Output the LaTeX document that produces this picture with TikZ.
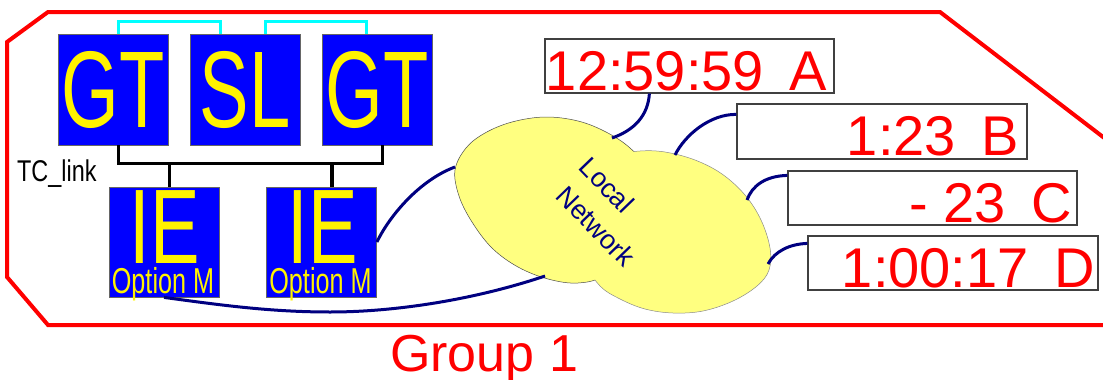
\documentclass[tikz,border=0pt]{standalone}
\usepackage{fontspec}
\setmainfont{Liberation Sans}
\usepackage{graphicx}
\definecolor{cloudyellow}{RGB}{255,255,128}
\definecolor{linknavy}{RGB}{0,0,128}
\definecolor{boxblue}{RGB}{0,0,255}
\definecolor{linkcyan}{RGB}{0,255,255}
\newcommand{\cond}[2][0.68]{\scalebox{#1}[1]{#2}}
\newcommand{\leftegg}{plot[smooth cycle, tension=0.6] coordinates {
  (455,170) (466,148) (485,133) (512,122) (545,117) (578,121) (606,132) (630,148)
  (648,170) (650,205) (635,245) (605,275) (578,283) (548,279) (518,267) (492,248)
  (472,222) (459,196)}}
\newcommand{\rightegg}{plot[smooth cycle, tension=0.6] coordinates {
  (600,170) (622,155) (640,151) (665,152) (695,160) (722,174) (745,195) (761,220)
  (770,248) (769,270) (757,286) (733,301) (703,311) (673,313) (645,309) (620,299)
  (600,286) (588,265) (585,230) (588,195)}}
\begin{document}
\begin{tikzpicture}[x=1pt,y=-1pt,
  bluebox/.style={fill=boxblue, draw=black!60, line width=0.8pt, inner sep=0pt,
    minimum width=110pt, minimum height=111pt, text=yellow,
    font=\fontsize{109}{109}\selectfont},
  ietxt/.style={text=yellow, inner sep=0pt, anchor=base, font=\fontsize{106}{106}\selectfont},
  opttxt/.style={text=yellow, inner sep=0pt, anchor=base, font=\fontsize{36}{36}\selectfont},
  timebox/.style={draw=black!75, fill=white, line width=1.2pt, inner sep=0pt,
    minimum width=289pt, minimum height=54pt},
  timetxt/.style={text=red, inner sep=0pt, anchor=base east, font=\fontsize{56}{56}\selectfont},
  navyline/.style={draw=linknavy, line width=3pt},
  cyanlink/.style={draw=linkcyan, line width=3.5pt},
  tclink/.style={draw=black, line width=3.5pt},
  cloudedge/.style={draw=black!70, line width=0.5pt},
  netlabel/.style={rotate=-46, text=linknavy, inner sep=0pt, font=\fontsize{27}{27}\selectfont},
]
\path[use as bounding box] (0,0) rectangle (1103,380);
\clip (0,0) rectangle (1103,380);

% group outline
\draw[red, line width=4pt, line join=miter] (1120,150) -- (940,12) -- (48,12) -- (7,42) -- (7,277) -- (48,325) -- (1120,325);
\node[anchor=base west, text=red, inner sep=0pt, font=\fontsize{52}{52}\selectfont] (grp) at (390,371) {Group 1};

% cloud
\fill[cloudyellow] \rightegg;
\fill[cloudyellow] \leftegg;
\begin{scope}[even odd rule]
  \clip (0,0) rectangle (1103,380) \rightegg;
  \path[cloudedge] \leftegg;
\end{scope}
\begin{scope}[even odd rule]
  \clip (0,0) rectangle (1103,380) \leftegg;
  \path[cloudedge, draw=black!45] \rightegg;
\end{scope}
\node[netlabel] (loc) at (607,185) {Local};
\node[netlabel] (net) at (596,226) {Network};

\coordinate (c1) at (455,167);
\coordinate (c2) at (545,276);
\coordinate (c3) at (612,138);
\coordinate (c4) at (675,155);
\coordinate (c5) at (747,200);
\coordinate (c6) at (768,264);

% blue boxes
\node[bluebox] (gt1) at (113,89.5) {\cond{GT}};
\node[bluebox] (sl) at (245,89.5) {\cond{SL}};
\node[bluebox] (gt2) at (377,89.5) {\cond{GT}};
\node[bluebox, minimum height=110pt] (ie1) at (164,242) {};
\node[bluebox, minimum height=110pt] (ie2) at (321.5,242) {};
\node[ietxt] (ie1t) at (165,263) {\cond[0.7]{IE}};
\node[ietxt] (ie2t) at (322.5,263) {\cond[0.7]{IE}};
\node[opttxt] (ie1o) at (163,293) {\cond[0.7]{Option M}};
\node[opttxt] (ie2o) at (320.5,293) {\cond[0.7]{Option M}};

% links
\draw[cyanlink] ([xshift=61pt]gt1.north west) -- ++(0,-12) -| ([xshift=31pt]sl.north west);
\draw[cyanlink] ([xshift=76pt]sl.north west) -- ++(0,-12) -| ([xshift=45pt]gt2.north west);
\draw[tclink] ([xshift=61pt]gt1.south west) -- ++(0,18) -| ([xshift=61pt]gt2.south west);
\draw[tclink] ([xshift=61pt]ie1.north west) -- ++(0,-24);
\draw[tclink] ([xshift=66pt]ie2.north west) -- ++(0,-24);
\node[anchor=base west, inner sep=0pt, font=\fontsize{30}{30}\selectfont] (tcl) at (17,181) {\cond[0.78]{TC\_link}};

% time boxes
\node[timebox] (ta) at (689.5,66) {};
\node[timebox, minimum width=290pt, minimum height=55pt] (tb) at (882,131.5) {};
\node[timebox] (tc) at (932.5,198) {};
\node[timebox, minimum width=290pt] (td) at (953,263) {};
\node[timetxt] (tat) at (827,90) {12:59:59 \kern10pt A};
\node[timetxt] (tbt) at (1019,155) {1:23 \kern10pt B};
\node[timetxt] (tct) at (1072,222) {- 23 \kern10pt C};
\node[timetxt] (tdt) at (1095,287) {1:00:17 \kern10pt D};

% network connectors
\draw[navyline] (ie2.east) .. controls (390,215) and (420,180) .. (c1);
\draw[navyline] (ie1.south) .. controls (220,305) and (270,312) .. (330,312)
   .. controls (400,312) and (480,298) .. (c2);
\draw[navyline] ([xshift=105pt]ta.south west) .. controls (648,115) and (635,130) .. (c3);
\draw[navyline] ([yshift=-11pt]tb.north west) .. controls (710,114) and (685,135) .. (c4);
\draw[navyline] ([yshift=-5pt]tc.north west) .. controls (765,176) and (752,186) .. (c5);
\draw[navyline] ([yshift=-8pt]td.north west) .. controls (790,244) and (775,251) .. (c6);
\end{tikzpicture}
\end{document}
